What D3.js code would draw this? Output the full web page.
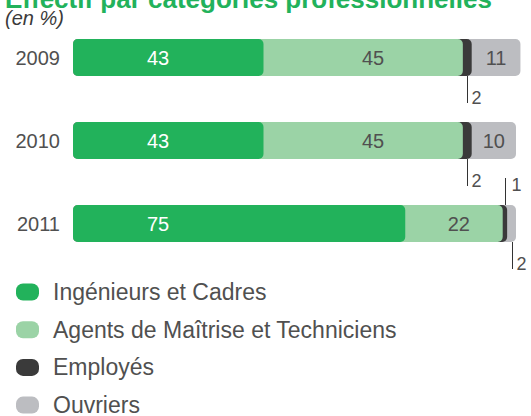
<!DOCTYPE html>
<html>
<head>
<meta charset="utf-8">
<script src="https://cdn.jsdelivr.net/npm/d3@7"></script>
<style>
  body { margin: 0; background: #fff; }
  text { font-family: 'Liberation Sans', Arial, sans-serif; }
</style>
</head>
<body>
<div id="chart-1"></div>
<script>
const years = ['2009', '2010', '2011']
const categories = ['Ingénieurs et Cadres', 'Agents de Maîtrise et Techniciens', 'Employés', 'Ouvriers']
const cadres = [43, 43, 75]
const agents = [45, 45, 22]
const employes = [2, 2, 1]
const ouvriers = [11, 10, 2]
const colors = ['#22b25b', '#9bd3a6', '#3a3a3a', '#bcbdc1']

const series = [cadres, agents, employes, ouvriers]

let width = 531
let height = 416

let svg = d3
  .select('#chart-1')
  .append('svg')
  .attr('width', width)
  .attr('height', height)

// title, cut at the top like the original
svg.append('text')
  .text('Effectif par catégories professionnelles')
  .attr('x', 5)
  .attr('y', 8)
  .attr('fill', '#22b25b')
  .attr('font-weight', 'bold')
  .attr('font-size', 26)

svg.append('text')
  .text('(en %)')
  .attr('x', 5)
  .attr('y', 25)
  .attr('fill', '#3a3a3a')
  .attr('font-style', 'italic')
  .attr('font-size', 20)

const xScale = d3.scaleLinear().domain([0, 100]).range([73, 516])
const yScale = d3.scaleBand()
  .domain(years)
  .range([39, 39 + 83 * 2 + 37])
  .paddingInner(46 / 83)

const rows = years.map(function(year, i) {
  let cum = 0
  const segs = series.map(function(s, j) {
    const seg = { cat: j, value: s[i], start: cum, end: cum + s[i] }
    cum += s[i]
    return seg
  })
  return { year: year, segs: segs }
})

const row = svg.selectAll('.row')
  .data(rows)
  .enter()
  .append('g')
  .attr('class', 'row')
  .attr('transform', d => `translate(0,${yScale(d.year)})`)

const bh = yScale.bandwidth()

row.append('text')
  .text(d => d.year)
  .attr('x', 60)
  .attr('y', bh / 2 + 7)
  .attr('text-anchor', 'end')
  .attr('fill', '#505050')
  .attr('font-size', 20)

// draw back to front so each rounded end overlaps the next segment
row.selectAll('.seg')
  .data(d => d.segs.slice().reverse())
  .enter()
  .append('rect')
  .attr('class', 'seg')
  .attr('x', xScale(0))
  .attr('y', 0)
  .attr('height', bh)
  .attr('width', d => xScale(d.end) - xScale(0))
  .attr('rx', 5)
  .attr('fill', d => colors[d.cat])

// labels inside segments
row.selectAll('.val')
  .data(d => d.segs.filter(s => s.value >= 5))
  .enter()
  .append('text')
  .attr('class', 'val')
  .text(d => d.value)
  .attr('x', function(d) {
    const w = xScale(d.end) - xScale(d.start)
    if (d.cat === 0) return xScale(0) + 85
    if (d.cat === 1) return xScale(d.start) + w * 0.55
    return xScale(d.start) + w / 2
  })
  .attr('y', bh / 2 + 7)
  .attr('text-anchor', 'middle')
  .attr('fill', d => d.cat === 0 ? '#fff' : '#505050')
  .attr('font-size', 20)

// small values get a leader line, first one above if there are two
row.each(function(d) {
  const small = d.segs.filter(s => s.value < 5)
  const g = d3.select(this)
  small.forEach(function(s, k) {
    const above = small.length > 1 && k === 0
    const x = Math.round((xScale(s.start) + xScale(s.end)) / 2) + 0.5
    if (above) {
      g.append('line')
        .attr('x1', x).attr('x2', x)
        .attr('y1', -27).attr('y2', 0)
        .attr('stroke', '#333')
      g.append('text')
        .text(s.value)
        .attr('x', x + 6)
        .attr('y', -14)
        .attr('fill', '#505050')
        .attr('font-size', 18)
    } else {
      g.append('line')
        .attr('x1', x).attr('x2', x)
        .attr('y1', bh).attr('y2', bh + 27)
        .attr('stroke', '#333')
      g.append('text')
        .text(s.value)
        .attr('x', x + 4)
        .attr('y', bh + 28)
        .attr('fill', '#505050')
        .attr('font-size', 18)
    }
  })
})

// legend
const legend = svg.selectAll('.legend')
  .data(categories)
  .enter()
  .append('g')
  .attr('class', 'legend')
  .attr('transform', (d, i) => `translate(16,${292 + i * 37.7})`)

legend.append('rect')
  .attr('x', 0)
  .attr('y', -8.5)
  .attr('width', 23)
  .attr('height', 17)
  .attr('rx', 7)
  .attr('fill', (d, i) => colors[i])

legend.append('text')
  .text(d => d)
  .attr('x', 37)
  .attr('y', 8)
  .attr('fill', '#505050')
  .attr('font-size', 23)
</script>
</body>
</html>
